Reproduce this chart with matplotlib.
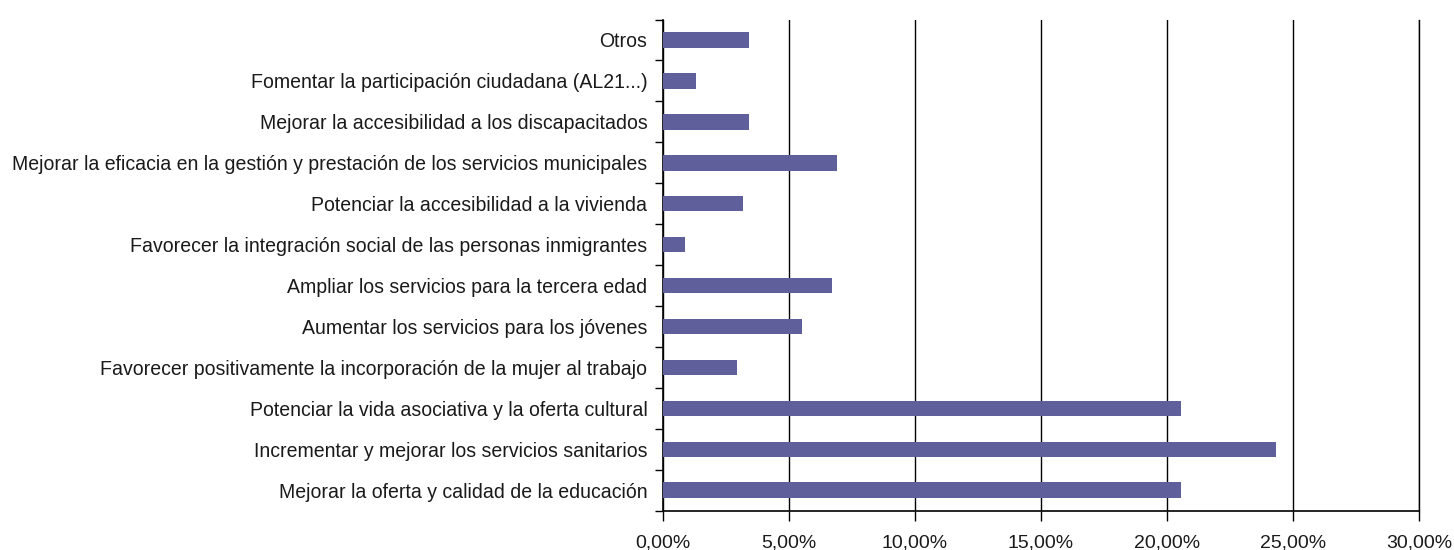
import numpy as np
import matplotlib.pyplot as plt
from matplotlib.ticker import FuncFormatter, FixedLocator

# categories listed from bottom to top
categorias = [
    "Mejorar la oferta y calidad de la educación",
    "Incrementar y mejorar los servicios sanitarios",
    "Potenciar la vida asociativa y la oferta cultural",
    "Favorecer positivamente la incorporación de la mujer al trabajo",
    "Aumentar los servicios para los jóvenes",
    "Ampliar los servicios para la tercera edad",
    "Favorecer la integración social de las personas inmigrantes",
    "Potenciar la accesibilidad a la vivienda",
    "Mejorar la eficacia en la gestión y prestación de los servicios municipales",
    "Mejorar la accesibilidad a los discapacitados",
    "Fomentar la participación ciudadana (AL21...)",
    "Otros",
]
porcentajes = [20.55, 24.32, 20.55, 2.96, 5.51, 6.70, 0.88, 3.20, 6.90, 3.43, 1.32, 3.43]
xticks = [0, 5, 10, 15, 20, 25, 30]

plt.rcParams['font.family'] = ['Liberation Sans', 'DejaVu Sans']

fig = plt.figure(figsize=(14.54, 5.5), dpi=100)
ax = fig.add_axes([0.4558, 0.0715, 0.5203, 0.893])

y = np.arange(len(categorias))
ax.barh(y, porcentajes, height=0.38, color="#5f5f9c", zorder=3)

ax.set_xlim(0, 30)
ax.set_ylim(-0.5, len(categorias) - 0.5)
ax.set_xticks(xticks)
ax.xaxis.set_major_formatter(FuncFormatter(lambda v, p: f"{v:.2f}%".replace(".", ",")))
ax.grid(axis="x", color="black", linewidth=1.0, zorder=1)

ax.set_yticks(y)
ax.set_yticklabels(categorias)
ax.yaxis.set_minor_locator(FixedLocator(np.arange(-0.5, len(categorias), 1)))
ax.tick_params(axis="y", which="major", length=0, pad=11, labelsize=14.05, labelcolor="#1a1a1a")
ax.tick_params(axis="y", which="minor", length=6, width=1, direction="out")
ax.tick_params(axis="x", length=7, width=1, pad=10, labelsize=14, labelcolor="#1a1a1a")

ax.spines["top"].set_visible(False)
ax.spines["right"].set_color("black")
ax.spines["right"].set_linewidth(1.0)
ax.spines["left"].set_linewidth(1.2)
ax.spines["bottom"].set_linewidth(1.2)

fig.savefig("out.png", dpi=100)
